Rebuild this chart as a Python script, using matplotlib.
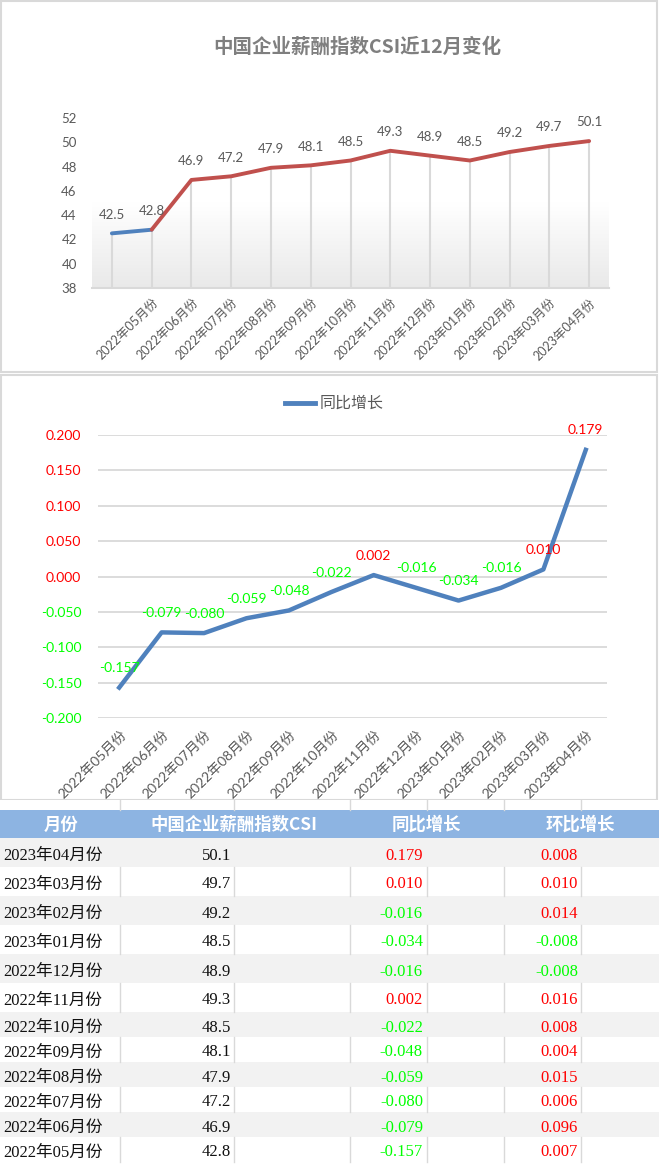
import numpy as np
import matplotlib
matplotlib.use('Agg')
import matplotlib.pyplot as plt
from matplotlib.colors import LinearSegmentedColormap
from matplotlib.patches import Rectangle

plt.rcParams['font.family'] = ['Lato', 'Noto Sans CJK SC']

# 数据
months = ['2022年05月份', '2022年06月份', '2022年07月份', '2022年08月份',
          '2022年09月份', '2022年10月份', '2022年11月份', '2022年12月份',
          '2023年01月份', '2023年02月份', '2023年03月份', '2023年04月份']
csi_prev = 42.5   # 上一个月(图中无标签)
csi = [42.8, 46.9, 47.2, 47.9, 48.1, 48.5, 49.3, 48.9, 48.5, 49.2, 49.7, 50.1]
yoy = [-0.157, -0.079, -0.080, -0.059, -0.048, -0.022, 0.002, -0.016, -0.034, -0.016, 0.010, 0.179]
mom = [0.007, 0.096, 0.006, 0.015, 0.004, 0.008, 0.016, -0.008, -0.008, 0.014, 0.010, 0.008]
headers = ['月份', '中国企业薪酬指数CSI', '同比增长', '环比增长']

W, H = 659, 1164
RED = '#FF0000'
GREEN = '#00FF00'
GRAY_TXT = '#595959'
LINE_C = '#D9D9D9'

fig = plt.figure(figsize=(W / 100, H / 100), dpi=100)


def ax_px(l, t, r, b, **kw):
    return fig.add_axes([l / W, 1 - b / H, (r - l) / W, (b - t) / H], **kw)


# 背景(像素坐标)
bg = ax_px(0, 0, W, H)
bg.set_xlim(0, W)
bg.set_ylim(H, 0)
bg.axis('off')
bg.set_zorder(-5)

# 图表边框
bg.add_patch(Rectangle((1, 1), W - 3, 371, fill=False, ec=LINE_C, lw=1.5))
bg.add_patch(Rectangle((1, 375), W - 3, 425, fill=False, ec=LINE_C, lw=1.5))

# ---------------- 图1: CSI ----------------
ax1 = ax_px(92, 118, 609, 288)
vals = [csi_prev] + csi
xs = np.arange(len(vals))
grad = LinearSegmentedColormap.from_list('g', ['#FFFFFF', '#FFFFFF', '#E9E9E9'])
ax1.imshow(np.linspace(0, 1, 256).reshape(-1, 1), cmap=grad, aspect='auto',
           extent=(-0.5, len(vals) - 0.5, 38, 52), zorder=0)
ax1.vlines(xs, 38, vals, color=LINE_C, lw=1.5, zorder=1)
ax1.plot(xs[:2], vals[:2], color='#4F81BD', lw=2.8, zorder=3, solid_capstyle='round')
ax1.plot(xs[1:], vals[1:], color='#C0504D', lw=2.8, zorder=3, solid_capstyle='round')
for x, v in zip(xs, vals):
    ax1.annotate(f'{v:.1f}', (x, v), xytext=(0, 13.5), textcoords='offset points',
                 ha='center', va='center', fontsize=9.5, color=GRAY_TXT)
ax1.set_xlim(-0.5, len(vals) - 0.5)
ax1.set_ylim(38, 52)
ax1.set_yticks(np.arange(38, 53, 2))
ax1.set_xticks(xs[1:])
ax1.set_xticklabels(months, rotation=45, ha='right', va='top', rotation_mode='anchor')
ax1.tick_params(axis='both', length=0, labelsize=9, labelcolor=GRAY_TXT)
ax1.tick_params(axis='y', pad=11, labelsize=9.5)
ax1.tick_params(axis='x', pad=6)
for s in ['top', 'right', 'left']:
    ax1.spines[s].set_visible(False)
ax1.spines['bottom'].set_color(LINE_C)
ax1.spines['bottom'].set_linewidth(1.5)
fig.text(357 / W, 1 - 47 / H, '中国企业薪酬指数CSI近12月变化', ha='center', va='center',
         fontsize=14, fontweight='bold', color='#7F7F7F', family=['Noto Sans CJK SC'])

# ---------------- 图2: 同比增长 ----------------
ax2 = ax_px(98, 435, 607, 718)
x2 = np.arange(len(yoy))
ax2.plot(x2, yoy, color='#4F81BD', lw=3.2, zorder=3)
for x, v in zip(x2, yoy):
    ax2.annotate(f'{v:.3f}', (x, v), xytext=(0, 14), textcoords='offset points',
                 ha='center', va='center', fontsize=10, color=RED if v >= 0 else GREEN)
ax2.set_xlim(-0.5, len(yoy) - 0.5)
ax2.set_ylim(-0.2, 0.2)
yt = np.round(np.arange(-0.2, 0.201, 0.05), 3) + 0.0
ax2.set_yticks(yt)
ax2.set_yticklabels([f'{abs(t):.3f}' if abs(t) < 1e-9 else f'{t:.3f}' for t in yt])
for lab, t in zip(ax2.get_yticklabels(), yt):
    lab.set_color(RED if t >= -1e-9 else GREEN)
ax2.yaxis.grid(True, color=LINE_C, lw=1.3)
ax2.set_axisbelow(True)
ax2.set_xticks(x2)
ax2.set_xticklabels(months, rotation=45, ha='right', va='top', rotation_mode='anchor',
                    color=GRAY_TXT)
ax2.tick_params(axis='both', length=0, labelsize=10)
ax2.tick_params(axis='y', pad=12)
ax2.tick_params(axis='x', pad=7)
for s in ax2.spines.values():
    s.set_visible(False)

# 图例
bg.plot([285, 315], [403, 403], color='#4F81BD', lw=3.5)
bg.text(320, 403, '同比增长', ha='left', va='center', fontsize=11.5, color=GRAY_TXT,
        family=['Noto Sans CJK SC'])

# ---------------- 表格 ----------------
col_lines = [120, 234, 350, 427, 504, 581]
serif = ['Liberation Serif', 'Noto Sans CJK SC']

# 表头上方的空行
bg.add_patch(Rectangle((0, 800), W, 10, fc='white', ec='none'))
for cx in col_lines:
    bg.plot([cx, cx], [800, 810], color=LINE_C, lw=1)

bg.add_patch(Rectangle((0, 810), W, 28, fc='#8DB4E2', ec='none'))
for hx, h in zip([61, 234, 426, 580], headers):
    bg.text(hx, 825, h, ha='center', va='center', fontsize=12.5, fontweight='bold',
            color='white', family=['Noto Sans CJK SC'])

row_h = [29] * 6 + [25] * 6
top = 838
rows = list(zip(months, csi, yoy, mom))[::-1]
for i, (m, c, y, r) in enumerate(rows):
    h = row_h[i]
    if i % 2 == 0:
        bg.add_patch(Rectangle((0, top), W, h, fc='#F2F2F2', ec='none'))
    else:
        for cx in col_lines:
            bg.plot([cx, cx], [top, top + h], color=LINE_C, lw=1)
    cy = top + h / 2 + 3
    bg.text(3, cy, m, ha='left', va='center', fontsize=12, color='#111111', family=serif)
    bg.text(231, cy, f'{c:.1f}', ha='right', va='center', fontsize=12, color='#111111',
            family=serif)
    bg.text(423, cy, f'{y:.3f}', ha='right', va='center', fontsize=12,
            color=RED if y >= 0 else GREEN, family=serif)
    bg.text(578, cy, f'{r:.3f}', ha='right', va='center', fontsize=12,
            color=RED if r >= 0 else GREEN, family=serif)
    top += h

fig.savefig('out.png', dpi=100, facecolor='white')
